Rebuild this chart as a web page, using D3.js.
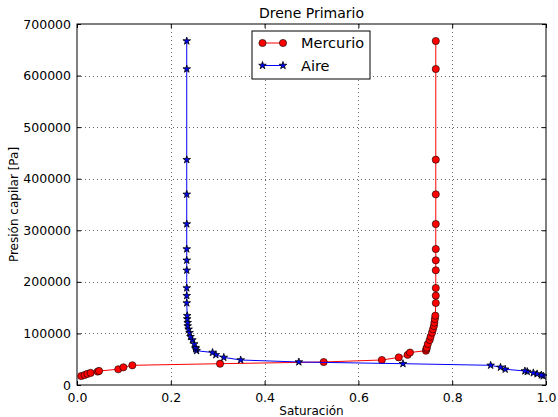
<!DOCTYPE html>
<meta charset="utf-8" />
<head>
  <style>
    body { margin: 0; background: #fff; }
    text { font-family: "DejaVu Sans", sans-serif; fill: #000; }
    .grid line { stroke: #000; stroke-width: 0.6; stroke-dasharray: 1,3; }
    .tick-lbl { font-size: 12px; }
  </style>
  <script src="https://cdn.jsdelivr.net/npm/d3@7"></script>
</head>
<body>
<script>
  // presion capilar, la misma para los dos fluidos [Pa]
  var presion = [17500, 19200, 21500, 23500, 26000, 27200, 30500, 34300, 38200, 41300,
    44600, 48500, 53500, 58500, 63000, 66500, 70000, 72500, 79500, 87300,
    93700, 101400, 108000, 114400, 120800, 128000, 134400, 159000, 173200, 188100,
    222400, 241800, 263700, 312200, 369700, 436900, 612700, 667000];

  var satMercurio = [0.009, 0.016, 0.022, 0.029, 0.044, 0.047, 0.088, 0.099, 0.118, 0.305,
    0.526, 0.650, 0.686, 0.705, 0.710, 0.744, 0.745, 0.746, 0.748, 0.752,
    0.754, 0.757, 0.759, 0.761, 0.762, 0.763, 0.764, 0.765, 0.765, 0.765,
    0.765, 0.765, 0.765, 0.765, 0.765, 0.765, 0.765, 0.765];

  var satAire = [0.994, 0.990, 0.981, 0.973, 0.960, 0.955, 0.913, 0.903, 0.882, 0.695,
    0.473, 0.349, 0.313, 0.296, 0.289, 0.255, 0.253, 0.253, 0.250, 0.246,
    0.242, 0.240, 0.238, 0.236, 0.236, 0.235, 0.235, 0.234, 0.234, 0.234,
    0.234, 0.234, 0.234, 0.234, 0.234, 0.234, 0.234, 0.234];

  var xTicks = [0, 0.2, 0.4, 0.6, 0.8, 1.0],
    yTicks = [0, 100000, 200000, 300000, 400000, 500000, 600000, 700000];

  var W = 558, H = 417;
  var margin = { top: 24, right: 12, bottom: 32, left: 77 },
    width = W - margin.left - margin.right,
    height = H - margin.top - margin.bottom;

  var x = d3.scaleLinear().domain([0, 1]).range([0, width]);
  var y = d3.scaleLinear().domain([0, 700000]).range([height, 0]);

  var svg = d3.select("body").append("svg")
    .attr("width", W)
    .attr("height", H);

  var g = svg.append("g")
    .attr("transform", "translate(" + margin.left + "," + margin.top + ")");

  // rejilla punteada
  var grid = g.append("g").attr("class", "grid");
  grid.selectAll(".gx").data(xTicks.slice(1, -1)).enter().append("line")
    .attr("x1", function(d) { return Math.round(x(d)) + 0.5; })
    .attr("x2", function(d) { return Math.round(x(d)) + 0.5; })
    .attr("y1", 0).attr("y2", height);
  grid.selectAll(".gy").data(yTicks.slice(1, -1)).enter().append("line")
    .attr("y1", function(d) { return Math.round(y(d)) + 0.5; })
    .attr("y2", function(d) { return Math.round(y(d)) + 0.5; })
    .attr("x1", 0).attr("x2", width);

  // ejes (ticks hacia dentro, en los cuatro lados)
  var fmtX = d3.format(".1f");
  g.append("g").attr("transform", "translate(0," + height + ")")
    .call(d3.axisBottom(x).tickValues(xTicks).tickFormat(fmtX).tickSizeInner(-4).tickSizeOuter(0).tickPadding(8));
  g.append("g")
    .call(d3.axisTop(x).tickValues(xTicks).tickFormat("").tickSizeInner(-4).tickSizeOuter(0));
  g.append("g")
    .call(d3.axisLeft(y).tickValues(yTicks).tickFormat(d3.format("d")).tickSizeInner(-4).tickSizeOuter(0).tickPadding(6));
  g.append("g").attr("transform", "translate(" + width + ",0)")
    .call(d3.axisRight(y).tickValues(yTicks).tickFormat("").tickSizeInner(-4).tickSizeOuter(0));

  g.selectAll(".tick text").attr("class", "tick-lbl").style("font-family", "DejaVu Sans").style("font-size", "12.5px");
  g.selectAll(".domain").remove();
  g.selectAll(".tick line").attr("stroke", "#000");

  g.append("rect")
    .attr("width", width).attr("height", height)
    .attr("fill", "none").attr("stroke", "#000").attr("stroke-width", 1);

  var series = [
    { nombre: "Mercurio", sat: satMercurio, color: "red", marca: "circle" },
    { nombre: "Aire", sat: satAire, color: "blue", marca: "star" }
  ];

  var line = d3.line()
    .x(function(d) { return x(d[0]); })
    .y(function(d) { return y(d[1]); });

  var star = d3.symbol().type(d3.symbolStar).size(18);

  series.forEach(function(s) {
    var pts = s.sat.map(function(v, i) { return [v, presion[i]]; });
    g.append("path")
      .datum(pts)
      .attr("fill", "none")
      .attr("stroke", s.color)
      .attr("stroke-width", 1)
      .attr("d", line);

    if (s.marca == "circle") {
      g.selectAll(".m-" + s.nombre).data(pts).enter().append("circle")
        .attr("cx", function(d) { return x(d[0]); })
        .attr("cy", function(d) { return y(d[1]); })
        .attr("r", 3.6)
        .attr("fill", s.color)
        .attr("stroke", "#000")
        .attr("stroke-width", 0.6);
    } else {
      g.selectAll(".m-" + s.nombre).data(pts).enter().append("path")
        .attr("transform", function(d) { return "translate(" + x(d[0]) + "," + y(d[1]) + ")"; })
        .attr("d", star)
        .attr("fill", s.color)
        .attr("stroke", "#000")
        .attr("stroke-width", 0.8);
    }
  });

  // leyenda
  var leg = g.append("g").attr("transform", "translate(175,7)");
  leg.append("rect")
    .attr("width", 118).attr("height", 48)
    .attr("fill", "#fff").attr("stroke", "#000").attr("stroke-width", 1);
  series.forEach(function(s, i) {
    var yy = 12 + i * 22.5;
    leg.append("line")
      .attr("x1", 10.5).attr("x2", 31)
      .attr("y1", yy).attr("y2", yy)
      .attr("stroke", s.color).attr("stroke-width", 1);
    [10.5, 31].forEach(function(xx) {
      if (s.marca == "circle") {
        leg.append("circle").attr("cx", xx).attr("cy", yy).attr("r", 3.6)
          .attr("fill", s.color).attr("stroke", "#000").attr("stroke-width", 0.6);
      } else {
        leg.append("path").attr("transform", "translate(" + xx + "," + yy + ")")
          .attr("d", star).attr("fill", s.color).attr("stroke", "#000").attr("stroke-width", 0.8);
      }
    });
    leg.append("text")
      .attr("x", 49).attr("y", yy + 5)
      .style("font-size", "14.5px")
      .text(s.nombre);
  });

  // titulo y etiquetas
  svg.append("text")
    .attr("x", margin.left + width / 2).attr("y", 18)
    .attr("text-anchor", "middle")
    .style("font-size", "14px")
    .text("Drene Primario");

  svg.append("text")
    .attr("x", margin.left + width / 2).attr("y", 415)
    .attr("text-anchor", "middle")
    .style("font-size", "12px")
    .text("Saturación");

  svg.append("text")
    .attr("transform", "translate(18," + (margin.top + height / 2) + ") rotate(-90)")
    .attr("text-anchor", "middle")
    .style("font-size", "12px")
    .text("Presión capilar [Pa]");
</script>
</body>
